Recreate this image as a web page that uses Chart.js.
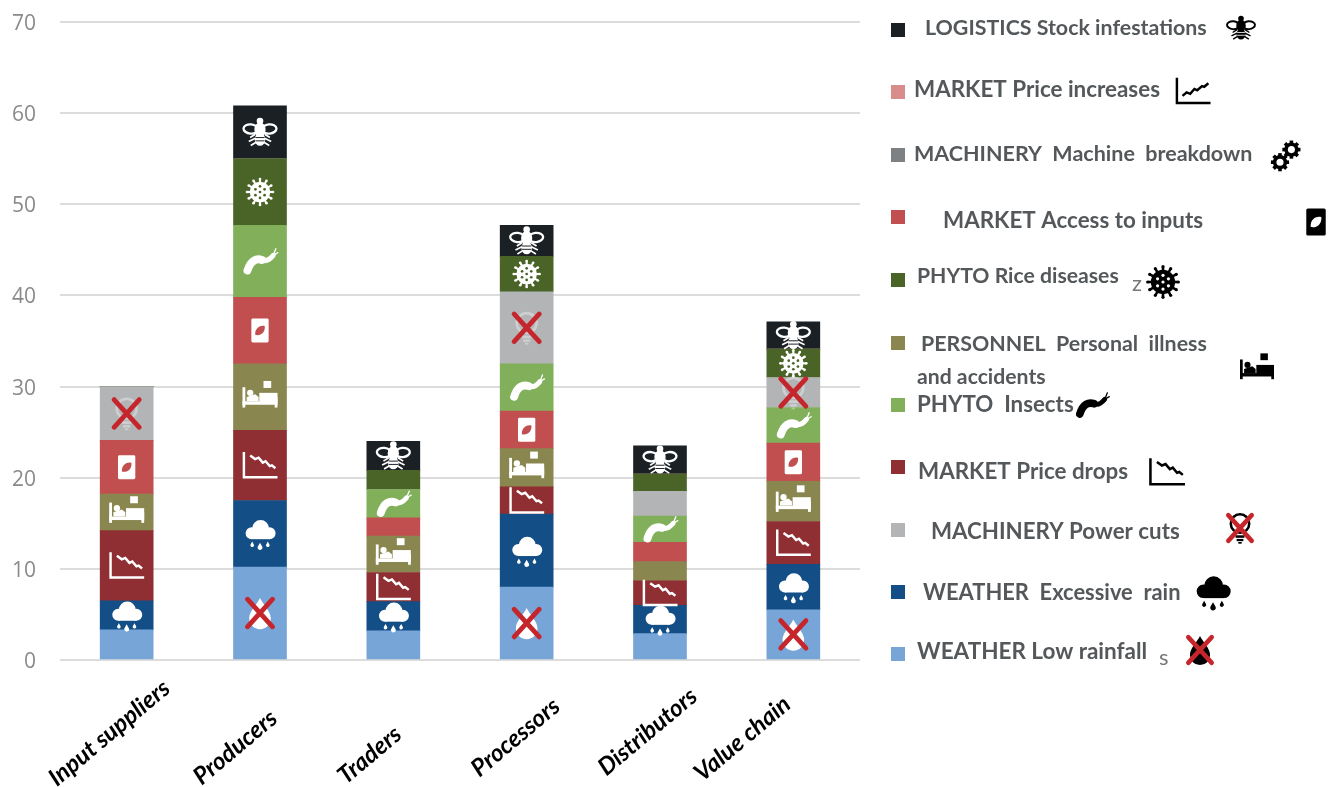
<!DOCTYPE html>
<html>
<head>
<meta charset="utf-8">
<title>Risks along the rice value chain</title>
<script src="https://cdn.jsdelivr.net/npm/chart.js@4/dist/chart.umd.min.js"></script>
<style>
    html, body { margin: 0; padding: 0; background: #fff; }
    canvas { display: block; }
</style>
</head>
<body>
<canvas id="riskChart" width="1336" height="787"></canvas>
<script>
// Chart values
const categories = ['Input suppliers', 'Producers', 'Traders', 'Processors', 'Distributors', 'Value chain'];
const yTicks = [0, 10, 20, 30, 40, 50, 60, 70];
const lowRainfall = [3.3, 10.2, 3.2, 8.0, 2.9, 5.5];
const excessiveRain = [3.2, 7.3, 3.2, 8.0, 3.1, 5.0];
const priceDrops = [7.7, 7.7, 3.2, 3.0, 2.7, 4.7];
const personalIllness = [4.0, 7.3, 4.0, 4.2, 2.1, 4.4];
const accessToInputs = [5.9, 7.3, 2.0, 4.1, 2.1, 4.2];
const insects = [0, 7.9, 3.1, 5.2, 2.9, 3.9];
const powerCuts = [5.9, 0, 0, 7.9, 2.7, 3.3];
const riceDiseases = [0, 7.3, 2.1, 3.9, 1.9, 3.1];
const machineBreakdown = [0, 0, 0, 0, 0, 0];
const priceIncreases = [0, 0, 0, 0, 0, 0];
const stockInfestations = [0, 5.8, 3.2, 3.4, 3.1, 3.0];

// Series in stacking order, bottom to top
const series = [
    { label: 'WEATHER Low rainfall', data: lowRainfall, color: '#78a5d8', icon: 'dropCross', iconSize: 30, skip: [0, 2, 4] },
    { label: 'WEATHER Excessive rain', data: excessiveRain, color: '#134f86', icon: 'cloud', iconSize: 30, skip: [] },
    { label: 'MARKET Price drops', data: priceDrops, color: '#8f2f33', icon: 'chartDown', iconSize: 35, skip: [] },
    { label: 'PERSONNEL Personal illness and accidents', data: personalIllness, color: '#8a8650', icon: 'bed', iconSize: 35, skip: [4] },
    { label: 'MARKET Access to inputs', data: accessToInputs, color: '#c14f4f', icon: 'sack', iconSize: 24, skip: [2, 4] },
    { label: 'PHYTO Insects', data: insects, color: '#82b05a', icon: 'caterpillar', iconSize: 33, skip: [] },
    { label: 'MACHINERY Power cuts', data: powerCuts, color: '#b2b4b6', icon: 'bulbCross', iconSize: 30, iconColor: 'rgba(255,255,255,0.35)', skip: [4] },
    { label: 'PHYTO Rice diseases', data: riceDiseases, color: '#4a6427', icon: 'virus', iconSize: 27, skip: [2, 4] },
    { label: 'MACHINERY Machine breakdown', data: machineBreakdown, color: '#7d8184', icon: 'gears', iconSize: 30, skip: [] },
    { label: 'MARKET Price increases', data: priceIncreases, color: '#d98c8c', icon: 'chartUp', iconSize: 35, skip: [] },
    { label: 'LOGISTICS Stock infestations', data: stockInfestations, color: '#1b2025', icon: 'bee', iconSize: 33, skip: [] }
];

// Legend rows, top to bottom. Each line is text, x, y, font size
const legendRows = [
    { key: 'LOGISTICS Stock infestations', swatchY: 30, lines: [['LOGISTICS Stock infestations', 925, 28, 21.4]], icon: [1241, 28, 28] },
    { key: 'MARKET Price increases', swatchY: 92, lines: [['MARKET Price increases', 914, 90, 22.4]], icon: [1193, 91, 35] },
    { key: 'MACHINERY Machine breakdown', swatchY: 155, lines: [['MACHINERY  Machine  breakdown', 914, 154, 21.5]], icon: [1286, 155, 30] },
    { key: 'MARKET Access to inputs', swatchY: 217, lines: [['MARKET Access to inputs', 943, 221, 22.4]], icon: [1316, 222, 27] },
    { key: 'PHYTO Rice diseases', swatchY: 280, lines: [['PHYTO Rice diseases', 917, 276, 21.2]], icon: [1163, 282, 32] },
    { key: 'PERSONNEL Personal illness and accidents', swatchY: 343, lines: [['PERSONNEL  Personal  illness', 921, 344, 21.4], ['and accidents', 917, 377, 21.2]], icon: [1257, 369, 34] },
    { key: 'PHYTO Insects', swatchY: 405, lines: [['PHYTO  Insects', 917, 405, 22.3]], icon: [1092, 405, 32] },
    { key: 'MARKET Price drops', swatchY: 467, lines: [['MARKET Price drops', 918, 472, 22.4]], icon: [1167, 472, 36] },
    { key: 'MACHINERY Power cuts', swatchY: 530, lines: [['MACHINERY Power cuts', 931, 532, 22.3]], icon: [1240, 528, 28] },
    { key: 'WEATHER Excessive rain', swatchY: 592, lines: [['WEATHER  Excessive  rain', 923, 593, 21.9]], icon: [1213, 592, 34] },
    { key: 'WEATHER Low rainfall', swatchY: 654, lines: [['WEATHER Low rainfall', 917, 652, 22.5]], icon: [1200, 650, 28] }
];

// Leftover letters beside the legend
const legendStrays = [['z', 1132, 284], ['s', 1159, 658]];

// Hand placed category labels, as offsets from each tick
const labelOffsets = [[40, 25], [14, 55], [5, 71], [30, 43], [34, 33], [-6, 41]];

const X_RED = '#c5262c';

// Icon shapes, all drawn in a 100 wide box centred on 0,0
const icons = {
    cross(ctx) {
        ctx.strokeStyle = X_RED;
        ctx.lineWidth = 16;
        ctx.lineCap = 'round';
        ctx.beginPath();
        ctx.moveTo(-42, -46);
        ctx.lineTo(42, 46);
        ctx.moveTo(42, -46);
        ctx.lineTo(-42, 46);
        ctx.stroke();
    },
    dropCross(ctx, color) {
        ctx.fillStyle = color;
        ctx.beginPath();
        ctx.moveTo(0, -50);
        ctx.bezierCurveTo(12, -26, 36, -6, 36, 18);
        ctx.arc(0, 18, 36, 0, Math.PI);
        ctx.bezierCurveTo(-36, -6, -12, -26, 0, -50);
        ctx.fill();
        icons.cross(ctx);
    },
    bulbCross(ctx, color) {
        ctx.fillStyle = color;
        ctx.strokeStyle = color;
        ctx.lineWidth = 9;
        ctx.beginPath();
        ctx.arc(0, -16, 33, 0, Math.PI * 2);
        ctx.stroke();
        ctx.fillRect(-16, 26, 32, 9);
        ctx.fillRect(-12, 39, 24, 8);
        ctx.fillRect(-6, 50, 12, 6);
        icons.cross(ctx);
    },
    cloud(ctx, color) {
        ctx.fillStyle = color;
        ctx.beginPath();
        ctx.arc(-28, -2, 20, 0, Math.PI * 2);
        ctx.arc(2, -18, 28, 0, Math.PI * 2);
        ctx.arc(32, -2, 20, 0, Math.PI * 2);
        ctx.fill();
        ctx.fillRect(-28, -4, 60, 22);
        [[-26, 38, 6], [0, 46, 8], [26, 38, 6]].forEach(d => {
            ctx.beginPath();
            ctx.moveTo(d[0], d[1] - d[2] * 2);
            ctx.arc(d[0], d[1], d[2], -0.3, Math.PI + 0.3);
            ctx.closePath();
            ctx.fill();
        });
    },
    chartDown(ctx, color) {
        drawTrend(ctx, color, [[-28, -28], [-14, -18], [-4, -22], [8, -8], [16, -12], [28, 2], [34, 0], [44, 8]]);
    },
    chartUp(ctx, color) {
        drawTrend(ctx, color, [[-30, 14], [-18, 4], [-8, 8], [4, -6], [12, -2], [26, -14], [32, -12], [44, -22]]);
    },
    bed(ctx, color) {
        ctx.fillStyle = color;
        ctx.fillRect(-50, -28, 8, 58);
        ctx.fillRect(-50, 12, 100, 10);
        ctx.fillRect(42, 0, 8, 30);
        ctx.fillRect(-2, -12, 52, 26);
        ctx.beginPath();
        ctx.arc(-28, -12, 9, 0, Math.PI * 2);
        ctx.fill();
        ctx.beginPath();
        ctx.moveTo(-38, 0);
        ctx.lineTo(-14, -8);
        ctx.lineTo(-4, 0);
        ctx.lineTo(-4, 12);
        ctx.lineTo(-38, 12);
        ctx.closePath();
        ctx.fill();
        ctx.fillRect(10, -46, 22, 20);
    },
    sack(ctx, color, hole) {
        ctx.fillStyle = color;
        ctx.beginPath();
        ctx.roundRect(-36, -50, 72, 100, 6);
        ctx.fill();
        ctx.fillStyle = hole;
        ctx.beginPath();
        ctx.moveTo(20, -18);
        ctx.bezierCurveTo(6, -24, -22, -14, -20, 18);
        ctx.bezierCurveTo(2, 24, 22, 8, 20, -18);
        ctx.fill();
    },
    caterpillar(ctx, color) {
        ctx.strokeStyle = color;
        ctx.lineCap = 'round';
        ctx.lineWidth = 24;
        ctx.beginPath();
        ctx.moveTo(-38, 28);
        ctx.bezierCurveTo(-28, -4, -10, -10, 6, -4);
        ctx.stroke();
        ctx.lineWidth = 15;
        ctx.beginPath();
        ctx.moveTo(6, -4);
        ctx.bezierCurveTo(18, 2, 30, -6, 40, -18);
        ctx.stroke();
        ctx.lineWidth = 4;
        ctx.beginPath();
        ctx.moveTo(40, -18);
        ctx.lineTo(48, -38);
        ctx.moveTo(40, -18);
        ctx.lineTo(54, -26);
        ctx.stroke();
    },
    virus(ctx, color, hole) {
        ctx.fillStyle = color;
        ctx.strokeStyle = color;
        ctx.lineWidth = 8;
        ctx.beginPath();
        ctx.arc(0, 0, 38, 0, Math.PI * 2);
        ctx.fill();
        for (let i = 0; i < 12; i++) {
            const a = i * Math.PI / 6;
            ctx.beginPath();
            ctx.moveTo(Math.cos(a) * 30, Math.sin(a) * 30);
            ctx.lineTo(Math.cos(a) * 47, Math.sin(a) * 47);
            ctx.stroke();
            ctx.beginPath();
            ctx.arc(Math.cos(a) * 48, Math.sin(a) * 48, 5, 0, Math.PI * 2);
            ctx.fill();
        }
        ctx.fillStyle = hole;
        [[0, 0], [-17, -10], [17, -10], [-17, 12], [17, 12], [0, -21], [0, 22]].forEach(p => {
            ctx.beginPath();
            ctx.arc(p[0], p[1], 5, 0, Math.PI * 2);
            ctx.fill();
        });
    },
    bee(ctx, color, hole) {
        ctx.fillStyle = color;
        ctx.strokeStyle = color;
        // wings
        ctx.lineWidth = 7;
        ctx.beginPath();
        ctx.ellipse(-28, -10, 22, 14, 0.1, 0, Math.PI * 2);
        ctx.stroke();
        ctx.beginPath();
        ctx.ellipse(28, -10, 22, 14, -0.1, 0, Math.PI * 2);
        ctx.stroke();
        // body
        ctx.beginPath();
        ctx.arc(0, -34, 10, 0, Math.PI * 2);
        ctx.fill();
        ctx.beginPath();
        ctx.ellipse(0, -8, 17, 22, 0, 0, Math.PI * 2);
        ctx.fill();
        ctx.beginPath();
        ctx.ellipse(0, 22, 16, 19, 0, 0, Math.PI * 2);
        ctx.fill();
        ctx.strokeStyle = hole;
        ctx.lineWidth = 3;
        [16, 26].forEach(y => {
            ctx.beginPath();
            ctx.moveTo(-14, y);
            ctx.lineTo(14, y);
            ctx.stroke();
        });
        // legs
        ctx.strokeStyle = color;
        ctx.lineWidth = 5;
        [[14, 30, 12], [14, 34, 24], [12, 28, 36]].forEach(l => {
            ctx.beginPath();
            ctx.moveTo(-l[0], l[2] - 6);
            ctx.lineTo(-l[1], l[2] + 4);
            ctx.moveTo(l[0], l[2] - 6);
            ctx.lineTo(l[1], l[2] + 4);
            ctx.stroke();
        });
    },
    gears(ctx, color, hole) {
        drawGear(ctx, color, hole, 18, -18, 28);
        drawGear(ctx, color, hole, -20, 24, 28);
    }
};

function drawTrend(ctx, color, points) {
    ctx.strokeStyle = color;
    ctx.lineWidth = 7;
    ctx.lineJoin = 'miter';
    ctx.beginPath();
    ctx.moveTo(-46, -38);
    ctx.lineTo(-46, 34);
    ctx.lineTo(50, 34);
    ctx.stroke();
    ctx.lineWidth = 7;
    ctx.beginPath();
    points.forEach((p, i) => i ? ctx.lineTo(p[0], p[1]) : ctx.moveTo(p[0], p[1]));
    ctx.stroke();
}

function drawGear(ctx, color, hole, x, y, r) {
    ctx.fillStyle = color;
    ctx.beginPath();
    ctx.arc(x, y, r * 0.85, 0, Math.PI * 2);
    ctx.fill();
    ctx.strokeStyle = color;
    ctx.lineWidth = 12;
    for (let i = 0; i < 8; i++) {
        const a = i * Math.PI / 4;
        ctx.beginPath();
        ctx.moveTo(x + Math.cos(a) * r * 0.7, y + Math.sin(a) * r * 0.7);
        ctx.lineTo(x + Math.cos(a) * r * 1.08, y + Math.sin(a) * r * 1.08);
        ctx.stroke();
    }
    ctx.fillStyle = hole;
    ctx.beginPath();
    ctx.arc(x, y, r * 0.42, 0, Math.PI * 2);
    ctx.fill();
}

function drawIcon(ctx, name, x, y, size, color, hole) {
    const s = size / 100;
    ctx.save();
    ctx.translate(x, y);
    ctx.scale(s, s);
    icons[name](ctx, color, hole);
    ctx.restore();
}

// White pictograms inside the bar segments
const barIconsPlugin = {
    id: 'barIcons',
    afterDatasetsDraw(chart) {
        const ctx = chart.ctx;
        series.forEach((s, i) => {
            const meta = chart.getDatasetMeta(i);
            meta.data.forEach((bar, j) => {
                if (!s.data[j] || s.skip.includes(j)) return;
                drawIcon(ctx, s.icon, bar.x, (bar.y + bar.base) / 2, s.iconSize, s.iconColor || '#fff', s.color);
            });
        });
    }
};

// Slanted category labels
const categoryLabelsPlugin = {
    id: 'categoryLabels',
    afterDraw(chart) {
        const ctx = chart.ctx;
        const xScale = chart.scales.x;
        ctx.save();
        ctx.font = 'italic 700 24px Lato';
        ctx.fillStyle = '#000';
        ctx.textAlign = 'right';
        ctx.textBaseline = 'middle';
        categories.forEach((name, i) => {
            ctx.save();
            ctx.translate(xScale.getPixelForTick(i) + labelOffsets[i][0], chart.chartArea.bottom + labelOffsets[i][1]);
            ctx.rotate(-40 * Math.PI / 180);
            ctx.fillText(name, 0, 0);
            ctx.restore();
        });
        ctx.restore();
    }
};

// Legend column on the right, with one black pictogram per row
const legendColumnPlugin = {
    id: 'legendColumn',
    afterDraw(chart) {
        const ctx = chart.ctx;
        ctx.save();
        ctx.textAlign = 'left';
        ctx.textBaseline = 'middle';
        legendRows.forEach(row => {
            const s = series.find(item => item.label === row.key);
            ctx.fillStyle = s.color;
            ctx.fillRect(891, row.swatchY - 7, 14, 14);
            ctx.fillStyle = '#54585a';
            row.lines.forEach(line => {
                ctx.font = `700 ${line[3]}px Lato`;
                ctx.fillText(line[0], line[1], line[2]);
            });
            drawIcon(ctx, s.icon, row.icon[0], row.icon[1], row.icon[2], '#000', '#fff');
        });
        ctx.font = '400 22px Lato';
        ctx.fillStyle = '#777';
        legendStrays.forEach(item => ctx.fillText(item[0], item[1], item[2]));
        ctx.restore();
    }
};

new Chart(document.getElementById('riskChart'), {
    type: 'bar',
    data: {
        labels: categories,
        datasets: series.map(s => ({
            label: s.label,
            data: s.data,
            backgroundColor: s.color,
            borderWidth: 0,
            barThickness: 53
        }))
    },
    plugins: [barIconsPlugin, categoryLabelsPlugin, legendColumnPlugin],
    options: {
        responsive: false,
        animation: false,
        layout: { padding: { top: 22, right: 476, left: 0, bottom: 0 } },
        plugins: {
            legend: { display: false },
            tooltip: { enabled: false }
        },
        scales: {
            x: {
                stacked: true,
                afterFit(scale) { scale.height = 127; },
                grid: { display: false },
                border: { display: false },
                ticks: { display: false }
            },
            y: {
                stacked: true,
                min: 0,
                max: 70,
                afterFit(scale) {
                    scale.width = 60;
                    scale.paddingTop = 0;
                    scale.paddingBottom = 0;
                },
                afterBuildTicks(scale) { scale.ticks = yTicks.map(v => ({ value: v })); },
                grid: { color: '#dcdcdc', lineWidth: 2, drawTicks: false },
                border: { display: false },
                ticks: {
                    padding: 24,
                    labelOffset: 2,
                    color: '#8a8a8a',
                    font: { family: 'Open Sans', size: 21 }
                }
            }
        }
    }
});
</script>
</body>
</html>
